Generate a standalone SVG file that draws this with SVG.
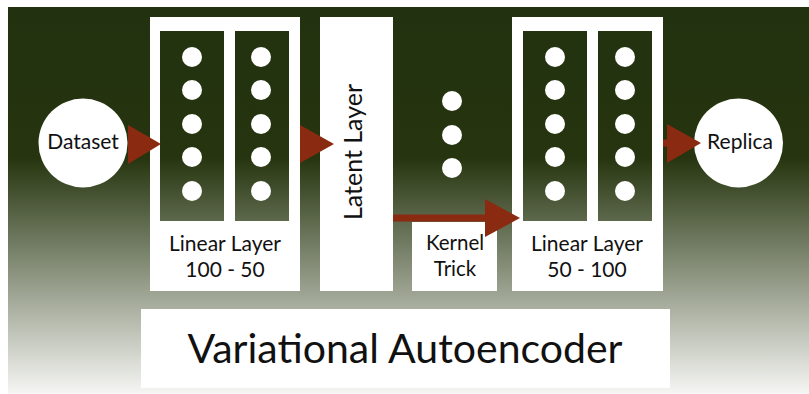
<svg xmlns="http://www.w3.org/2000/svg" width="809" height="394" viewBox="0 0 809 394">
<defs>
<linearGradient id="bg" gradientUnits="userSpaceOnUse" x1="0" y1="7" x2="0" y2="394">
<stop offset="0" stop-color="#22310f"/>
<stop offset="0.39" stop-color="#26350f"/>
<stop offset="1" stop-color="#f6f6f4"/>
</linearGradient>
<style>
.w{fill:#ffffff}
.col{fill:url(#bg)}
.dot{fill:#ffffff}
.t{font-family:Lato,"Open Sans",sans-serif;fill:#111111;text-anchor:middle}
.arr{fill:#8a2b11}
.ln{stroke:#8a2b11;stroke-width:7;fill:none}
</style>
</defs>
<rect x="0" y="0" width="809" height="394" fill="#ffffff"/>
<rect x="8" y="7" width="801" height="387" fill="url(#bg)"/>

<g id="dataset">
<circle class="w" cx="83" cy="143" r="44.5"/>
<text class="t" x="83" y="149" font-size="21">Dataset</text>
</g>

<g id="encoder">
<rect class="w" x="150" y="17" width="150" height="274"/>
<rect class="col" x="160" y="31" width="64" height="190"/>
<rect class="col" x="235" y="31" width="54" height="190"/>
<g class="dot">
<circle cx="192" cy="57" r="10"/><circle cx="192" cy="90" r="10"/><circle cx="192" cy="124" r="10"/><circle cx="192" cy="157" r="10"/><circle cx="192" cy="191" r="10"/>
<circle cx="261" cy="57" r="10"/><circle cx="261" cy="90" r="10"/><circle cx="261" cy="124" r="10"/><circle cx="261" cy="157" r="10"/><circle cx="261" cy="191" r="10"/>
</g>
<text class="t" x="225" y="251" font-size="21">Linear Layer</text>
<text class="t" x="225" y="277" font-size="21">100 - 50</text>
</g>

<g id="latent">
<rect class="w" x="320" y="17" width="73" height="274"/>
<text class="t" transform="translate(362,152) rotate(-90)" font-size="25">Latent Layer</text>
</g>

<g id="dots">
<circle class="dot" cx="452" cy="101" r="10"/>
<circle class="dot" cx="452" cy="135" r="10"/>
<circle class="dot" cx="452" cy="168" r="10"/>
</g>

<g id="kernel">
<rect class="w" x="412" y="222" width="85" height="69"/>
<text class="t" x="455" y="250" font-size="20.5">Kernel</text>
<text class="t" x="455" y="276" font-size="20.5">Trick</text>
</g>

<g id="decoder">
<rect class="w" x="512" y="17" width="151" height="274"/>
<rect class="col" x="523" y="31" width="64" height="190"/>
<rect class="col" x="598" y="31" width="54" height="190"/>
<g class="dot">
<circle cx="555" cy="57" r="10"/><circle cx="555" cy="90" r="10"/><circle cx="555" cy="124" r="10"/><circle cx="555" cy="157" r="10"/><circle cx="555" cy="191" r="10"/>
<circle cx="625" cy="57" r="10"/><circle cx="625" cy="90" r="10"/><circle cx="625" cy="124" r="10"/><circle cx="625" cy="157" r="10"/><circle cx="625" cy="191" r="10"/>
</g>
<text class="t" x="587" y="251" font-size="21">Linear Layer</text>
<text class="t" x="587" y="277" font-size="21">50 - 100</text>
</g>

<g id="replica">
<circle class="w" cx="738.5" cy="143" r="44.5"/>
<text class="t" x="740" y="149" font-size="21">Replica</text>
</g>

<g id="title">
<rect class="w" x="141" y="309" width="529" height="79"/>
<text class="t" x="405" y="363" font-size="41">Variational Autoencoder</text>
</g>

<g id="connectors">
<polygon class="arr" points="128,125 161,144 128,164"/>
<polygon class="arr" points="300,125 334,144 300,163"/>
<line class="ln" x1="393" y1="218" x2="487" y2="218"/>
<polygon class="arr" points="485,199 520,218 485,237"/>
<line class="ln" x1="663" y1="143" x2="668" y2="143"/>
<polygon class="arr" points="667,124 701,143 667,163"/>
</g>
</svg>
